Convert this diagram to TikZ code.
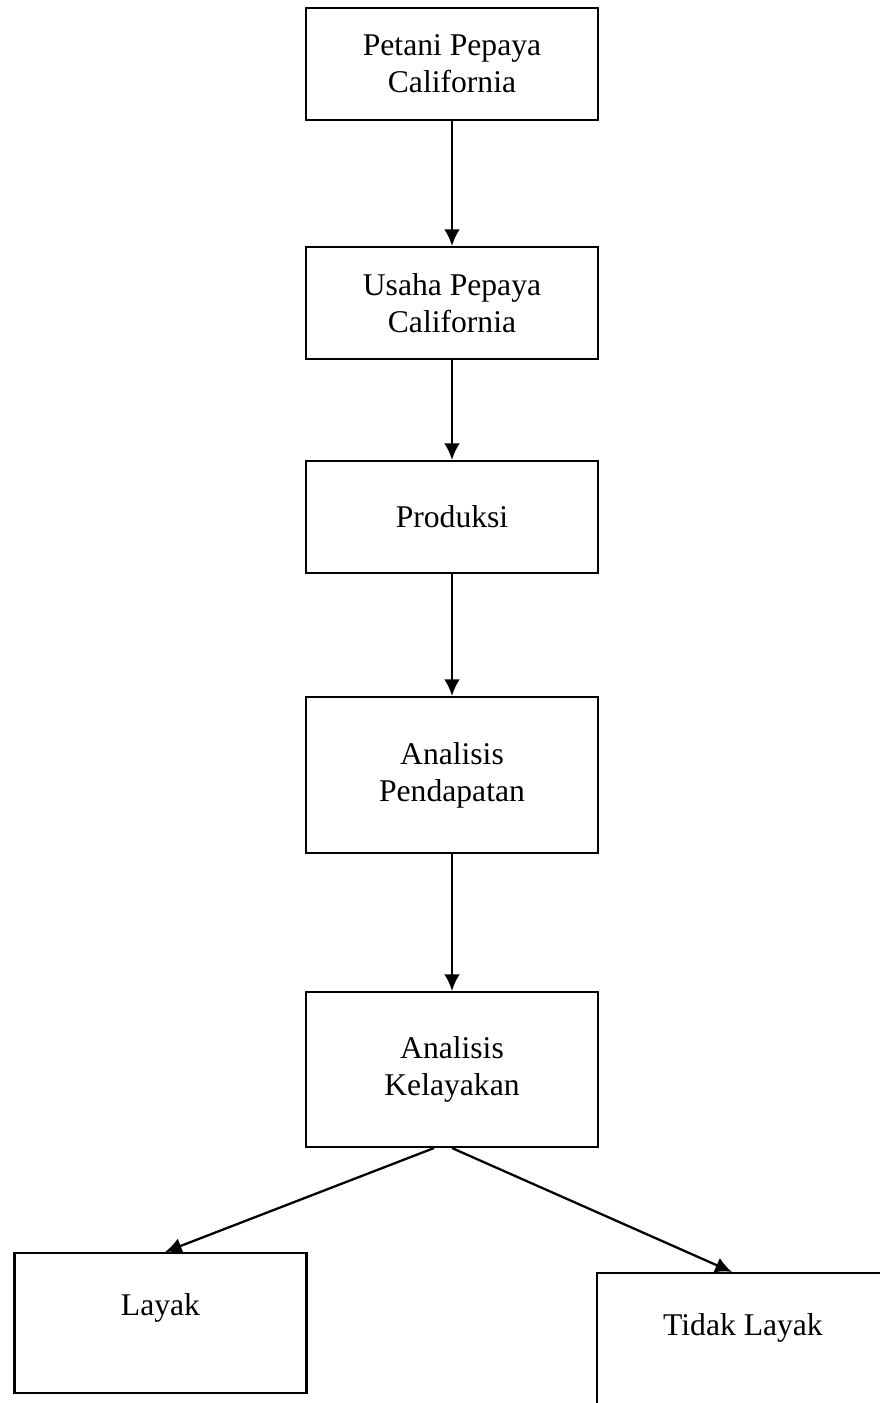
\documentclass[tikz,border=0pt]{standalone}
\usepackage{fontspec}
\setmainfont{Liberation Serif}
\usetikzlibrary{arrows.meta}

\tikzset{
  kotak/.style={draw, line width=1.2pt, minimum width=5.84cm, minimum height=2.24cm,
    align=center, inner sep=0pt, font=\fontsize{18}{21}\selectfont},
  hasil/.style={kotak, minimum height=2.8cm, text depth=21.5pt},
  panah/.style={line width=1.3pt, -{Latex[length=9.5pt, width=9pt]}}
}

\begin{document}
\begin{tikzpicture}[x=0.02cm, y=-0.02cm]
      \useasboundingbox (0,0) rectangle (879,1403);
      % alur utama
      \node[kotak] (petani) at (452,64) {Petani Pepaya\\California};
      \node[kotak] (usaha) at (452,303) {Usaha Pepaya\\California};
      \node[kotak] (produksi) at (452,517) {Produksi};
      \node[kotak, minimum height=3.12cm] (pendapatan) at (452,775) {Analisis\\Pendapatan};
      \node[kotak, minimum height=3.1cm] (kelayakan) at (452,1069.5) {Analisis\\Kelayakan};
      % hasil analisis
      \node[hasil] (layak) at (160.5,1323) {Layak};
      \node[hasil] (tidak) at (743,1343) {Tidak Layak};
      \draw[panah] (petani) -- (usaha);
      \draw[panah] (usaha) -- (produksi);
      \draw[panah] (produksi) -- (pendapatan);
      \draw[panah] (pendapatan) -- (kelayakan);
      \draw[panah] ([xshift=-0.36cm]kelayakan.south) -- ([xshift=0.09cm]layak.north);
      \draw[panah] (kelayakan.south) -- ([xshift=-0.22cm]tidak.north);
\end{tikzpicture}
\end{document}
